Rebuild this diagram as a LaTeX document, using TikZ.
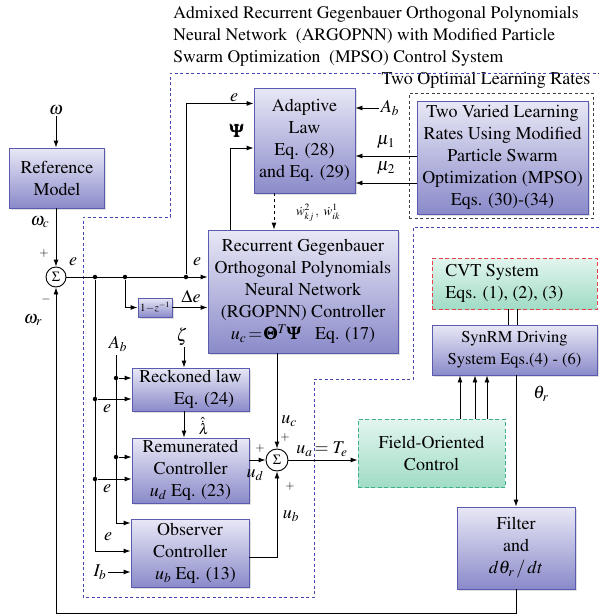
\documentclass[tikz,border=0pt]{standalone}
\usepackage[T1]{fontenc}
\usepackage{amsmath,amssymb}
\usepackage{mathptmx}
\usetikzlibrary{calc,arrows.meta,shadows}

\definecolor{boxtop}{HTML}{E8E8F6}
\definecolor{boxbot}{HTML}{8A8ACA}
\definecolor{boxline}{HTML}{5A5AAE}
\definecolor{foctop}{HTML}{E2F5EE}
\definecolor{focbot}{HTML}{A0DCC6}
\definecolor{focline}{HTML}{3FAF8B}
\definecolor{cvtline}{HTML}{E8404C}
\definecolor{regline}{HTML}{4646AE}

\tikzset{
 blk/.style={rectangle,draw=boxline,top color=boxtop,bottom color=boxbot,align=center,inner sep=0pt,drop shadow={opacity=0.25,shadow xshift=1.5pt,shadow yshift=-1.5pt}},
 grn/.style={rectangle,draw=focline,dash pattern=on 4pt off 2.5pt,top color=foctop,bottom color=focbot,align=center,inner sep=0pt},
 optbox/.style={rectangle,draw=black!75,dash pattern=on 3pt off 2.5pt,inner sep=0pt},
 sumc/.style={circle,draw,fill=white,minimum size=20pt,inner sep=0pt,font=\fontsize{14}{14}\selectfont},
 lbl/.style={inner sep=1pt},
 sgn/.style={inner sep=0pt,font=\fontsize{12}{12}\selectfont},
 dot/.style={circle,fill,inner sep=0pt,minimum size=4.5pt}
}

\begin{document}
\begin{tikzpicture}[x=1pt,y=-1pt,line width=0.9pt,>={Latex[length=7pt,width=5pt]},font=\fontsize{18}{22}\selectfont]
\useasboundingbox (0,0) rectangle (599,616);
% title and boundaries
\node[anchor=west,align=left,inner sep=0pt,font=\fontsize{17.6}{22}\selectfont] (title) at (173,36) {Admixed Recurrent Gegenbauer Orthogonal Polynomials\\Neural Network\ \ (ARGOPNN) with Modified Particle\\Swarm Optimization\ \ (MPSO) Control System};
\node[inner sep=0pt] (optt) at (486,80) {Two Optimal Learning Rates};
\draw[regline,dash pattern=on 3pt off 2.5pt] (599,227) -- (413,227) -- (413,379) -- (314,379) -- (314,597) -- (83,597) -- (83,217) -- (170,217) -- (170,73) -- (599,73);
\node[optbox,minimum width=184,minimum height=125] (opt) at (501,155.5) {};

% blocks
\node[blk,minimum width=95,minimum height=60] (ref) at (57,178) {Reference\\Model};
\node[blk,minimum width=101,minimum height=105] (adapt) at (304.5,140.5) {Adaptive\\Law\\Eq. (28)\\and Eq. (29)};
\node[blk,minimum width=171,minimum height=113] (mpso) at (502.5,157.5) {Two Varied Learning\\Rates Using Modified\\Particle Swarm\\Optimization (MPSO)\\Eqs. (30)-(34)};
\node[blk,minimum width=190,minimum height=123] (rgo) at (303,291.5) {Recurrent Gegenbauer\\Orthogonal Polynomials\\Neural Network\\(RGOPNN) Controller\\$u_c\!=\!\pmb{\Theta}^T\pmb{\Psi}$\ \ \ Eq. (17)};
\node[blk,minimum width=34,minimum height=19,font=\fontsize{11}{11}\selectfont] (zbox) at (155,307.5) {$1\!-\!z^{-1}$};
\node[blk,minimum width=117,minimum height=43] (reck) at (190.5,389.5) {Reckoned law\\\hspace*{1.5em}Eq. (24)};
\node[blk,minimum width=117,minimum height=65] (remun) at (190.5,470.5) {Remunerated\\Controller\\$u_d$ Eq. (23)};
\node[blk,minimum width=118,minimum height=68] (obs) at (190,553) {Observer\\Controller\\\hspace*{0.6em}$u_b$ Eq. (13)};
\node[grn,minimum width=147,minimum height=68] (foc) at (431.5,453) {Field-Oriented\\Control};
\node[grn,draw=cvtline,minimum width=165,minimum height=51] (cvt) at (514.5,283.5) {};
\node[anchor=west,align=left,inner sep=0pt] (cvtt) at (445,283.5) {CVT System\\Eqs. (1), (2), (3)};
\node[blk,minimum width=165,minimum height=50,font=\fontsize{16.5}{22}\selectfont] (synrm) at (514.5,350) {SynRM Driving\\System Eqs.(4) - (6)};
\node[blk,minimum width=118,minimum height=82] (filt) at (516,548) {Filter\\and\\$d\theta_r\,/\,dt$};
\node[sumc] (sum1) at (56,277) {$\Sigma$};
\node[sumc,minimum size=22pt] (sum2) at (277,460) {$\Sigma$};

% labels
\node[lbl] (lom) at (56,110) {$\omega$};
\node[lbl] (lomc) at (40,222) {$\omega_c$};
\node[lbl] (lomr) at (33,320) {$\omega_r$};
\node[sgn] (p1) at (44,253) {$+$};
\node[sgn] (m1) at (46,299) {$-$};
\node[lbl] (le0) at (73,262) {$e$};
\node[lbl] (le1) at (197,262) {$e$};
\node[lbl] (le2) at (234,98) {$e$};
\node[lbl] (lpsi) at (237,131) {$\pmb{\Psi}$};
\node[lbl] (lab1) at (390,108) {$A_b$};
\node[lbl] (lmu1) at (386,142) {$\mu_1$};
\node[lbl] (lmu2) at (386,168) {$\mu_2$};
\node[lbl,font=\fontsize{13}{13}\selectfont] (lw) at (318,213) {$\dot{w}^{2}_{kj}\,,\ \dot{w}^{1}_{ik}$};
\node[lbl] (lde) at (191,296) {$\Delta e$};
\node[lbl] (lab2) at (118,344) {$A_b$};
\node[lbl] (lzeta) at (182,337) {$\zeta$};
\node[lbl,font=\fontsize{15}{15}\selectfont] (llam) at (204,426) {$\hat{\dot{\lambda}}$};
\node[lbl] (le3) at (107,409) {$e$};
\node[lbl] (le4) at (107,489) {$e$};
\node[lbl] (le5) at (108,537) {$e$};
\node[lbl] (lib) at (100,572) {$I_b$};
\node[lbl] (luc) at (289,421) {$u_c$};
\node[sgn] (p2) at (285,437) {$+$};
\node[sgn] (p3) at (260,448) {$+$};
\node[lbl] (lud) at (255,475) {$u_d$};
\node[sgn] (p4) at (290,486) {$+$};
\node[lbl] (lub) at (291,516) {$u_b$};
\node[lbl] (lua) at (322,449) {$u_a\!=T_e$};
\node[lbl] (lth) at (541,394) {$\theta_r$};

% junctions
\node[dot] (j1) at (95,277) {};
\node[dot] (j2) at (125,277) {};
\node[dot] (j3) at (186,277) {};
\node[dot] (j4) at (95,399) {};
\node[dot] (j5) at (95,479) {};
\node[dot] (j6) at (116,378) {};
\node[dot] (j7) at (116,457) {};
\coordinate (abtop) at (116,355);

% connectors
\draw[->] (lom) -- (lom |- ref.north);
\draw[->] (ref.south -| sum1) -- (sum1.north);
\draw[->] (sum1.east) -- (sum1.east -| rgo.west);
\draw[->] (j3) |- (adapt.west |- le2.south);
\draw[->] (rgo.north -| 230,0) |- (adapt.west |- 0,148);
\draw[->] (lab1.west) -- (lab1.west -| adapt.east);
\draw[->] (mpso.west |- 0,156) -- (adapt.east |- 0,156);
\draw[->] (mpso.west |- 0,183) -- (adapt.east |- 0,183);
\draw[->,dashed] (adapt.south -| 274,0) -- (rgo.north -| 274,0);
\draw[->] (j2) |- (zbox.west);
\draw[->] (zbox.east) -- (zbox.east -| rgo.west);
\draw[->] (j1) |- (obs.west |- 0,551);
\draw[->] (j4) -- (j4 -| reck.west);
\draw[->] (j5) -- (j5 -| remun.west);
\draw[->] (abtop) |- (obs.west |- 0,523);
\draw[->] (j6) -- (j6 -| reck.west);
\draw[->] (j7) -- (j7 -| remun.west);
\draw[->] (lzeta.south -| 184,0) -- (reck.north -| 184,0);
\draw[->] (reck.south -| 184,0) -- (remun.north -| 184,0);
\draw[->] (rgo.south -| sum2) -- (sum2.north);
\draw[->] (remun.east |- sum2) -- (sum2.west);
\draw[->] (obs.east |- 0,557) -| (sum2.south);
\draw[->] (lib.east) -- (lib.east -| obs.west);
\draw[->] (sum2.east) -- (sum2.east -| foc.west);
\foreach \x in {460,475,487} \draw[->] (foc.north -| \x,0) -- (synrm.south -| \x,0);
\foreach \x in {508,517} \draw (cvt.south -| \x,0) -- (synrm.north -| \x,0);
\draw[->] (synrm.south -| filt) -- (filt.north);
\draw[->] (filt.south) -- ++(0,24) -| (sum1.south);
\end{tikzpicture}
\end{document}
